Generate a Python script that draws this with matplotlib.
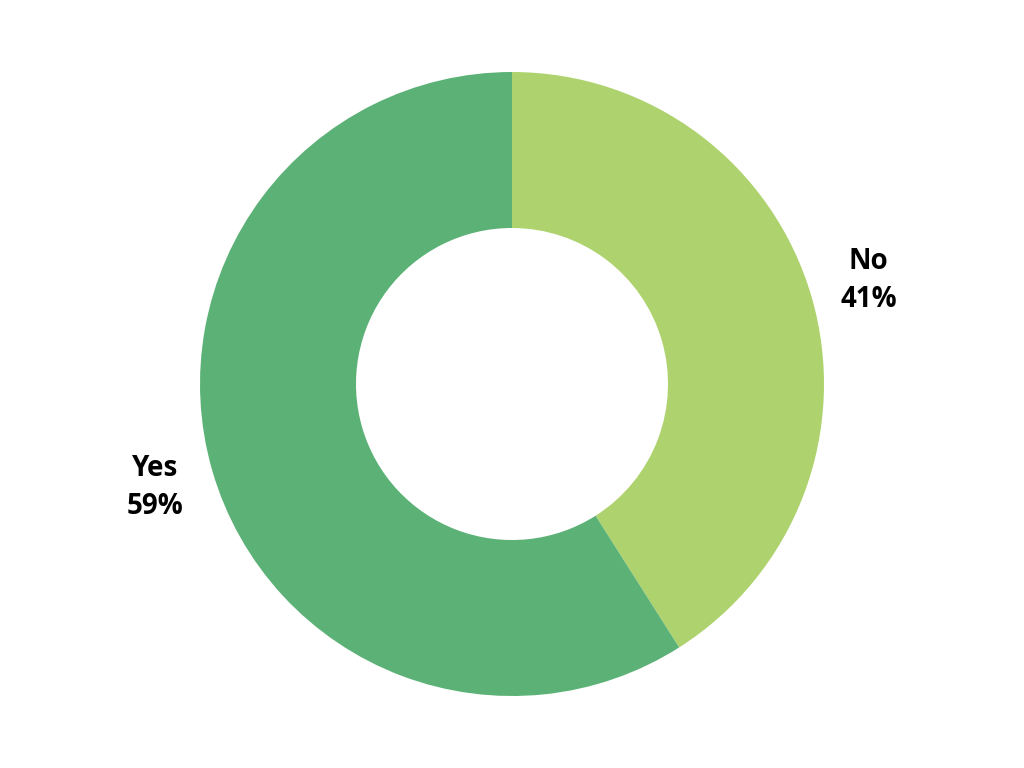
import matplotlib
matplotlib.use("Agg")
import matplotlib.pyplot as plt

categories = ["No", "Yes"]
values = [41, 59]
colors = ["#AED36E", "#5CB276"]

fig = plt.figure(figsize=(10.24, 7.68), dpi=100)
ax = fig.add_axes([0, 0, 1, 1])
ax.set_xlim(0, 1024)
ax.set_ylim(0, 768)
ax.set_aspect("equal")
ax.axis("off")

labels = [f"{c}\n{v}%" for c, v in zip(categories, values)]
wedges, texts = ax.pie(values, labels=labels, colors=colors, startangle=90,
                       counterclock=False, radius=312, center=(512, 384),
                       labeldistance=1.19, frame=True,
                       wedgeprops=dict(width=156, linewidth=0),
                       textprops=dict(fontsize=20, fontweight="bold",
                                      family=["Open Sans", "DejaVu Sans"],
                                      color="black", linespacing=1.4))
for t in texts:
    t.set_ha("center")
    t.set_va("center")
ax.set_xlim(0, 1024)
ax.set_ylim(0, 768)
ax.axis("off")
fig.savefig("out.png", dpi=100)
